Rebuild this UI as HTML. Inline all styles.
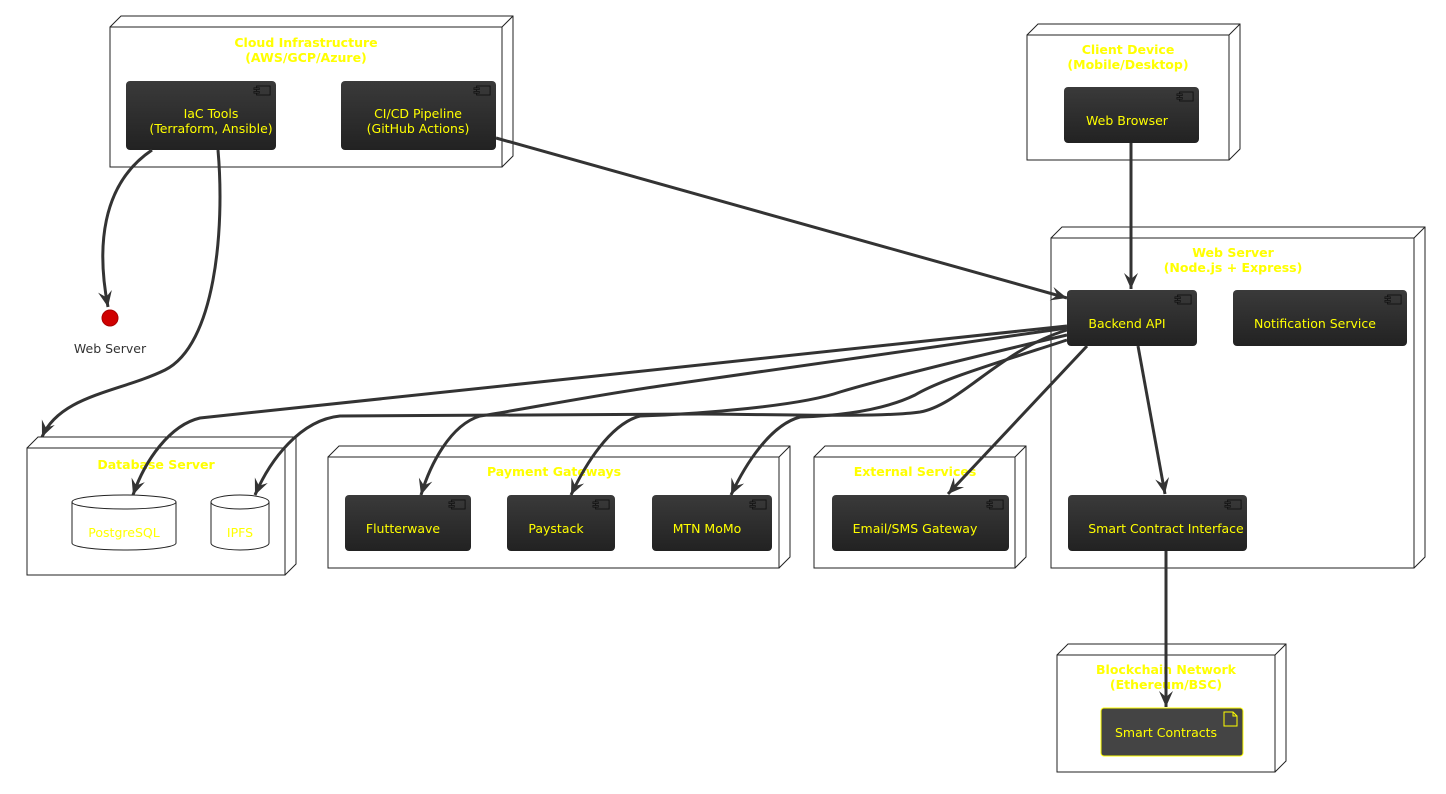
<!DOCTYPE html>
<html><head><meta charset="utf-8"><style>
html,body{margin:0;padding:0;background:#fff;}
svg{display:block;font-family:"DejaVu Sans","Liberation Sans",sans-serif;}
.nt{fill:#ffff00;font-weight:bold;font-size:12.5px;text-anchor:middle;}
.ct{fill:#ffff00;font-size:12.5px;text-anchor:middle;}
.e{fill:none;stroke:#333;stroke-width:3;}
.nd{fill:#fff;stroke:#222;stroke-width:1;}
</style></head><body>
<svg width="1446" height="794" viewBox="0 0 1446 794">
<defs>
<linearGradient id="g" x1="0" y1="0" x2="0" y2="1"><stop offset="0" stop-color="#3a3a3a"/><stop offset="1" stop-color="#222"/></linearGradient>
<marker id="a" viewBox="-10 -10 30 30" refX="11" refY="6" markerWidth="30" markerHeight="30" orient="auto" markerUnits="userSpaceOnUse">
<path d="M-5,-1 L11,6 L-5,13 L1,6 z" fill="#333"/>
</marker>
<symbol id="ic" viewBox="0 0 20 12"><rect x="4" y="1" width="15" height="10" fill="none" stroke="#111" stroke-width="1"/><rect x="1" y="3" width="6" height="2" fill="#333" stroke="#111" stroke-width="0.8"/><rect x="1" y="7" width="6" height="2" fill="#333" stroke="#111" stroke-width="0.8"/></symbol>
</defs>

<g>
<path class="nd" d="M110,27 L121,16 L513,16 L513,156 L502,167 M502,27 L513,16"/><rect class="nd" x="110" y="27" width="392" height="140"/>
<path class="nd" d="M1027,35 L1038,24 L1240,24 L1240,149 L1229,160 M1229,35 L1240,24"/><rect class="nd" x="1027" y="35" width="202" height="125"/>
<path class="nd" d="M1051,238 L1062,227 L1425,227 L1425,557 L1414,568 M1414,238 L1425,227"/><rect class="nd" x="1051" y="238" width="363" height="330"/>
<path class="nd" d="M27,448 L38,437 L296,437 L296,564 L285,575 M285,448 L296,437"/><rect class="nd" x="27" y="448" width="258" height="127"/>
<path class="nd" d="M328,457 L339,446 L790,446 L790,557 L779,568 M779,457 L790,446"/><rect class="nd" x="328" y="457" width="451" height="111"/>
<path class="nd" d="M814,457 L825,446 L1026,446 L1026,557 L1015,568 M1015,457 L1026,446"/><rect class="nd" x="814" y="457" width="201" height="111"/>
<path class="nd" d="M1057,655 L1068,644 L1286,644 L1286,761 L1275,772 M1275,655 L1286,644"/><rect class="nd" x="1057" y="655" width="218" height="117"/>
</g>
<text class="nt" x="306" y="47">Cloud Infrastructure</text><text class="nt" x="306" y="62">(AWS/GCP/Azure)</text>
<text class="nt" x="1128" y="54">Client Device</text><text class="nt" x="1128" y="69">(Mobile/Desktop)</text>
<text class="nt" x="1233" y="257">Web Server</text><text class="nt" x="1233" y="272">(Node.js + Express)</text>
<text class="nt" x="156" y="469">Database Server</text>
<text class="nt" x="554" y="476">Payment Gateways</text>
<text class="nt" x="915" y="476">External Services</text>
<text class="nt" x="1166" y="674">Blockchain Network</text><text class="nt" x="1166" y="689">(Ethereum/BSC)</text>

<g>
<rect x="126" y="81" width="150" height="69" rx="4" fill="url(#g)"/><use href="#ic" x="253" y="85" width="18" height="11"/>
<text class="ct" x="211" y="118">IaC Tools</text><text class="ct" x="211" y="133">(Terraform, Ansible)</text>
<rect x="341" y="81" width="155" height="69" rx="4" fill="url(#g)"/><use href="#ic" x="473" y="85" width="18" height="11"/>
<text class="ct" x="418" y="118">CI/CD Pipeline</text><text class="ct" x="418" y="133">(GitHub Actions)</text>
<rect x="1064" y="87" width="135" height="56" rx="4" fill="url(#g)"/><use href="#ic" x="1176" y="91" width="18" height="11"/>
<text class="ct" x="1127" y="125">Web Browser</text>
<rect x="1067" y="290" width="130" height="56" rx="4" fill="url(#g)"/><use href="#ic" x="1174" y="294" width="18" height="11"/>
<text class="ct" x="1127" y="328">Backend API</text>
<rect x="1233" y="290" width="174" height="56" rx="4" fill="url(#g)"/><use href="#ic" x="1384" y="294" width="18" height="11"/>
<text class="ct" x="1315" y="328">Notification Service</text>
<rect x="1068" y="495" width="179" height="56" rx="4" fill="url(#g)"/><use href="#ic" x="1224" y="499" width="18" height="11"/>
<text class="ct" x="1166" y="533">Smart Contract Interface</text>
<rect x="345" y="495" width="126" height="56" rx="4" fill="url(#g)"/><use href="#ic" x="448" y="499" width="18" height="11"/>
<text class="ct" x="403" y="533">Flutterwave</text>
<rect x="507" y="495" width="108" height="56" rx="4" fill="url(#g)"/><use href="#ic" x="592" y="499" width="18" height="11"/>
<text class="ct" x="556" y="533">Paystack</text>
<rect x="652" y="495" width="120" height="56" rx="4" fill="url(#g)"/><use href="#ic" x="749" y="499" width="18" height="11"/>
<text class="ct" x="707" y="533">MTN MoMo</text>
<rect x="832" y="495" width="177" height="56" rx="4" fill="url(#g)"/><use href="#ic" x="986" y="499" width="18" height="11"/>
<text class="ct" x="915" y="533">Email/SMS Gateway</text>
<rect x="1101" y="708" width="142" height="48" rx="3" fill="#444" stroke="#ffff00" stroke-width="1"/>
<path d="M1224,712 L1233,712 L1237,716 L1237,726 L1224,726 z M1233,712 L1233,716 L1237,716" fill="none" stroke="#ffff00" stroke-width="1"/>
<text class="ct" x="1166" y="737">Smart Contracts</text>
</g>

<g fill="#fff" stroke="#222" stroke-width="1">
<path d="M72,502 L72,543 A52,7 0 0 0 176,543 L176,502"/><ellipse cx="124" cy="502" rx="52" ry="7"/>
<path d="M211,502 L211,543 A29,7 0 0 0 269,543 L269,502"/><ellipse cx="240" cy="502" rx="29" ry="7"/>
</g>
<text class="ct" x="124" y="537">PostgreSQL</text>
<text class="ct" x="240" y="537">IPFS</text>

<circle cx="110" cy="318" r="8" fill="#d00000" stroke="#a00" stroke-width="1"/>
<text x="110" y="353" font-size="12.5" fill="#333" text-anchor="middle">Web Server</text>

<g class="e" marker-end="url(#a)">
<path d="M152,150 C100,185 97,250 108,307"/>
<path d="M218,150 C225,230 215,345 165,370 C120,392 60,395 42,437"/>
<path d="M496,138 L1067,298"/>
<path d="M1131,143 L1131,289"/>
<path d="M1067,326 L200,418 C170,425 145,460 133,495"/>
<path d="M1067,330 C1000,350 960,405 920,412 C880,418 760,414 700,414 L340,416 C300,420 270,460 255,495"/>
<path d="M1067,328 L660,386 C590,396 520,410 480,416 C450,425 430,465 421,495"/>
<path d="M1067,335 C960,360 880,380 840,392 C800,406 700,414 640,416 C610,424 585,465 571,495"/>
<path d="M1067,340 C990,365 940,380 915,395 C880,412 830,416 800,417 C770,425 745,465 731,495"/>
<path d="M1087,346 L948,494"/>
<path d="M1138,346 L1165,494"/>
<path d="M1166,551 L1166,707"/>
</g>
</svg>
</body></html>
